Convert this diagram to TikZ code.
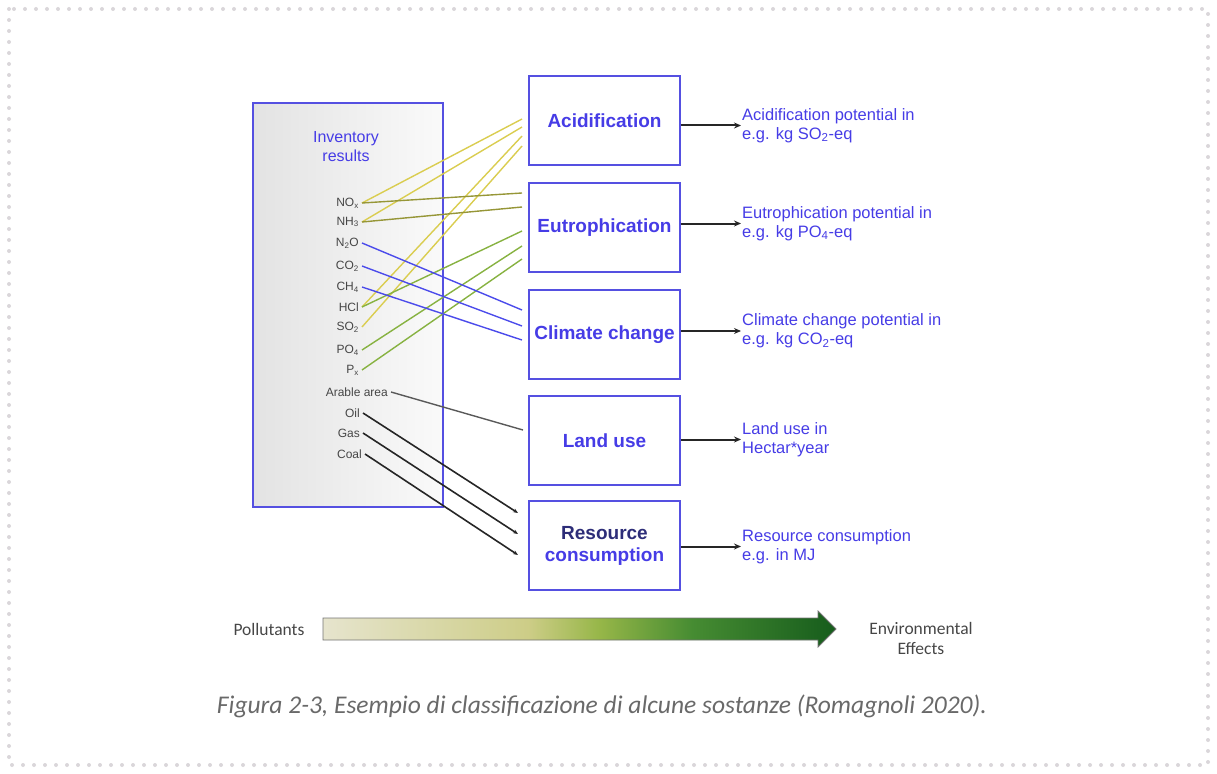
\documentclass[tikz,border=0pt]{standalone}
\usepackage{fontspec}
\setmainfont{Liberation Sans}
\newfontfamily\carlito{Carlito}
\usetikzlibrary{arrows.meta,calc}
\definecolor{boxblue}{RGB}{85,80,225}
\definecolor{txtblue}{RGB}{70,60,230}
\definecolor{navyt}{RGB}{45,45,120}
\definecolor{acidy}{RGB}{218,205,80}
\definecolor{olivel}{RGB}{150,150,55}
\definecolor{eutg}{RGB}{135,178,65}
\definecolor{climb}{RGB}{75,75,235}
\definecolor{capgray}{RGB}{105,105,105}
\definecolor{dotgray}{RGB}{218,214,218}
\definecolor{labgray}{RGB}{70,70,70}
\definecolor{shA}{RGB}{230,228,205}
\definecolor{shB}{RGB}{205,205,135}
\definecolor{shC}{RGB}{150,182,72}
\definecolor{shD}{RGB}{70,140,50}
\definecolor{shE}{RGB}{22,92,28}
\pgfdeclarehorizontalshading{envshade}{100bp}{color(0bp)=(shA); color(25bp)=(shA); color(45bp)=(shB); color(52bp)=(shC); color(61bp)=(shD); color(75bp)=(shE); color(100bp)=(shE)}
\tikzset{
  impact/.style={draw=boxblue, line width=1.5pt, fill=white, minimum width=151, minimum height=89,
    inner sep=0pt, align=center, text=txtblue, font=\fontsize{19}{22}\selectfont\bfseries},
  restxt/.style={anchor=west, inner sep=1pt, align=left, text=txtblue, font=\fontsize{16.5}{19}\selectfont},
  poll/.style={anchor=east, inner sep=3pt, text=labgray, font=\fontsize{12}{13}\selectfont},
  outarrow/.style={draw=black!85, line width=2pt, -{Stealth[length=7pt,width=6pt]}},
  acidline/.style={acidy, line width=1.4pt},
  eutoline/.style={olivel, line width=1.4pt},
  eutgline/.style={eutg, line width=1.4pt},
  climline/.style={climb, line width=1.4pt},
  landline/.style={black!65, line width=1.4pt},
  resline/.style={black!85, line width=1.6pt, -{Stealth[length=5pt,width=4pt]}}
}
\begin{document}
\begin{tikzpicture}[x=1pt,y=-1pt]
\useasboundingbox (0,0) rectangle (1217,773);
% dotted frame
\draw[dotgray, line width=4pt, line cap=round, dash pattern=on 0pt off 11pt] (9,9) rectangle (1208,765);

% inventory box
\node[draw=boxblue, line width=1.5pt, left color=black!11, right color=black!2,
      minimum width=190, minimum height=404, inner sep=0pt] (inv) at (348,305) {};
\node[text=txtblue, align=center, font=\fontsize{16}{19}\selectfont] (invt) at (346,147) {Inventory\\results};

% pollutant labels
\node[poll] (nox) at (362,203) {NO\textsubscript{x}};
\node[poll] (nh3) at (362,222) {NH\textsubscript{3}};
\node[poll] (n2o) at (362,243) {N\textsubscript{2}O};
\node[poll] (co2) at (362,266) {CO\textsubscript{2}};
\node[poll] (ch4) at (362,287) {CH\textsubscript{4}};
\node[poll] (hcl) at (362,307) {HCl};
\node[poll] (so2) at (362,327) {SO\textsubscript{2}};
\node[poll] (po4) at (362,350) {PO\textsubscript{4}};
\node[poll] (px)  at (362,370) {P\textsubscript{x}};
\node[poll] (arab) at (391,392) {Arable area};
\node[poll] (oil) at (363,413) {Oil};
\node[poll] (gas) at (363,433) {Gas};
\node[poll] (coal) at (365,454) {Coal};

% impact boxes
\node[impact] (acid) at (604.5,120.5) {Acidification};
\node[impact] (eutro) at (604.5,227.5) {Eutrophication};
\node[impact] (clim) at (604.5,334.5) {Climate change};
\node[impact] (land) at (604.5,440.5) {Land use};
\node[impact] (res) at (604.5,545.5) {\textcolor{navyt}{Resource}\\consumption};

% end points on the left of the impact boxes
\coordinate (a1) at (522,119);
\coordinate (a2) at (522,127);
\coordinate (a3) at (522,136);
\coordinate (a4) at (522,146);
\coordinate (e1) at (522,193);
\coordinate (e2) at (522,207);
\coordinate (e3) at (522,231);
\coordinate (e4) at (522,246);
\coordinate (e5) at (522,259);
\coordinate (c1) at (522,310);
\coordinate (c2) at (522,326);
\coordinate (c3) at (522,340);
\coordinate (l1) at (523,430);
\coordinate (r1) at (518,513);
\coordinate (r2) at (518,534);
\coordinate (r3) at (518,555);

% connectors pollutants -> categories
\draw[acidline] (nox.east) -- (a1);
\draw[acidline] (nh3.east) -- (a2);
\draw[acidline] (hcl.east) -- (a3);
\draw[acidline] (so2.east) -- (a4);
\draw[eutoline] (nox.east) -- (e1);
\draw[eutoline] (nh3.east) -- (e2);
\draw[eutgline] (hcl.east) -- (e3);
\draw[eutgline] (po4.east) -- (e4);
\draw[eutgline] (px.east) -- (e5);
\draw[climline] (n2o.east) -- (c1);
\draw[climline] (co2.east) -- (c2);
\draw[climline] (ch4.east) -- (c3);
\draw[landline] (arab.east) -- (l1);
\draw[resline] (oil.east) -- (r1);
\draw[resline] (gas.east) -- (r2);
\draw[resline] (coal.east) -- (r3);

% result texts
\node[restxt] (acidt) at (741,125.5) {Acidification potential in\\e.g. kg SO\textsubscript{2}-eq};
\node[restxt] (eutrot) at (741,223.5) {Eutrophication potential in\\e.g. kg PO\textsubscript{4}-eq};
\node[restxt] (climt) at (741,331) {Climate change potential in\\e.g. kg CO\textsubscript{2}-eq};
\node[restxt] (landt) at (741,439.5) {Land use in\\Hectar*year};
\node[restxt] (rest) at (741,546.5) {Resource consumption\\e.g. in MJ};

\draw[outarrow] (acidt.west -| acid.east) -- (acidt.west);
\draw[outarrow] (eutrot.west -| eutro.east) -- (eutrot.west);
\draw[outarrow] (climt.west -| clim.east) -- (climt.west);
\draw[outarrow] (landt.west -| land.east) -- (landt.west);
\draw[outarrow] (rest.west -| res.east) -- (rest.west);

% bottom gradient arrow
\shadedraw[shading=envshade, draw=black!55, line width=0.8pt]
  (323,618) -- (818,618) -- (818,611) -- (836,629) -- (818,647) -- (818,640) -- (323,640) -- cycle;
\node[text=labgray, font=\carlito\fontsize{17.5}{20}\selectfont] (pol) at (269,629) {Pollutants};
\node[text=labgray, align=center, font=\carlito\fontsize{17.5}{20}\selectfont] (env) at (921,638) {Environmental\\Effects};

% caption
\node[text=capgray, font=\carlito\itshape\fontsize{25.5}{28}\selectfont] (cap) at (602,706)
  {Figura 2-3, Esempio di classificazione di alcune sostanze (Romagnoli 2020).};
\end{tikzpicture}
\end{document}
